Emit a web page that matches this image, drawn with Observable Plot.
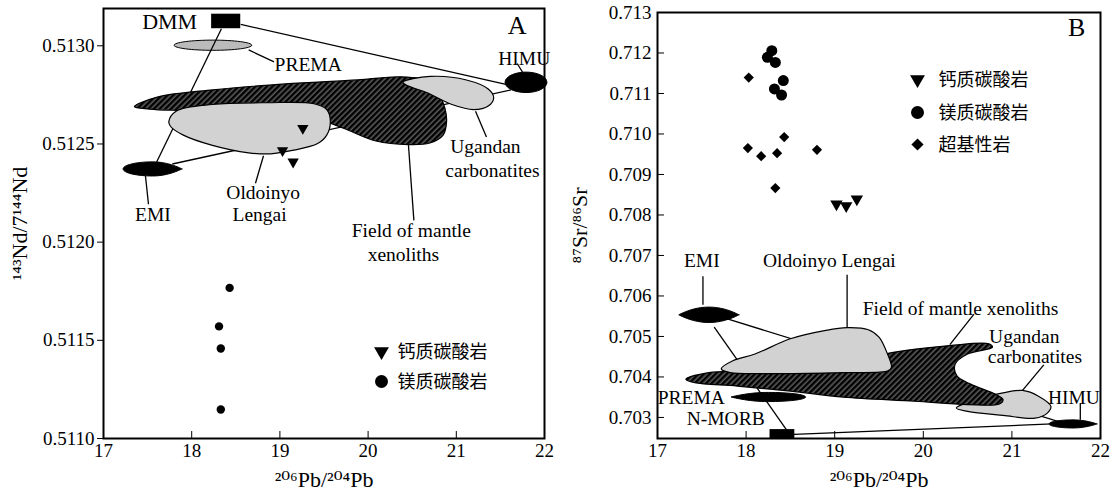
<!DOCTYPE html>
<html>
<head>
<meta charset="utf-8">
<script src="https://cdn.jsdelivr.net/npm/d3@7"></script>
<script src="https://cdn.jsdelivr.net/npm/@observablehq/plot@0.6"></script>
<style>
  body { margin: 0; background: #fff; }
  #wrap { display: flex; width: 1110px; height: 492px; overflow: hidden; }
  #wrap svg { overflow: visible; display: block; }
  #wrap svg text { font-family: "Liberation Serif", "Times New Roman", "DejaVu Serif", serif !important; }
  #wrap svg g.cjk text { font-family: "Noto Sans CJK SC", "Noto Sans", sans-serif !important; }
</style>
</head>
<body>
<svg width="0" height="0" style="position:absolute">
  <defs>
    <pattern id="hatchDark" width="4" height="4" patternUnits="userSpaceOnUse" patternTransform="rotate(45)">
      <rect width="4" height="4" fill="#5a5a5a"></rect>
      <line x1="1.2" y1="0" x2="1.2" y2="4" stroke="#000" stroke-width="2.4"></line>
    </pattern>
    <pattern id="dotsLight" width="2" height="2" patternUnits="userSpaceOnUse">
      <rect width="2" height="2" fill="#eaeaea"></rect>
      <rect width="1" height="1" fill="#8a8a8a"></rect>
    </pattern>
    <pattern id="dotsMid" width="2" height="2" patternUnits="userSpaceOnUse">
      <rect width="2" height="2" fill="#d6d6d6"></rect>
      <rect width="1" height="1" fill="#6a6a6a"></rect>
    </pattern>
  </defs>
</svg>
<div id="wrap"></div>
<script>
// ---------------- shared ticks ----------------
const xTicks = [17, 18, 19, 20, 21, 22];
const ndTicks = [0.5110, 0.5115, 0.5120, 0.5125, 0.5130];
const srTicks = [0.703, 0.704, 0.705, 0.706, 0.707, 0.708, 0.709, 0.710, 0.711, 0.712, 0.713];
const xTitle = "²⁰⁶Pb/²⁰⁴Pb";
const yTitleA = "¹⁴³Nd/7¹⁴⁴Nd";
const yTitleB = "⁸⁷Sr/⁸⁶Sr";
const legendNames = ["钙质碳酸岩", "镁质碳酸岩", "超基性岩"];

// ---------------- Panel A data (Pb vs Nd) ----------------
const caA_pb = [19.26, 19.03, 19.15];
const caA_nd = [0.512580, 0.512467, 0.512409];
const mgA_pb = [18.43, 18.31, 18.33, 18.33];
const mgA_nd = [0.511767, 0.511571, 0.511458, 0.511148];

const mantleA = [[17.35,0.512690],[17.62,0.512740],[18.24,0.512776],[19.06,0.512806],[19.88,0.512826],[20.37,0.512842],[20.70,0.512818],[20.80,0.512760],[20.87,0.512684],[20.89,0.512615],[20.85,0.512545],[20.70,0.512505],[20.46,0.512497],[20.09,0.512515],[19.72,0.512580],[19.40,0.512630],[18.60,0.512660],[17.90,0.512670],[17.52,0.512678]];
const oldoinyoA = [[17.741,0.512615],[17.823,0.512667],[18.235,0.512701],[18.852,0.512710],[19.387,0.512705],[19.531,0.512675],[19.572,0.512615],[19.531,0.512545],[19.428,0.512502],[19.14,0.512467],[18.893,0.512450],[18.646,0.512455],[18.235,0.512493],[17.905,0.512545],[17.761,0.512589]];
const ugandaA = [[20.395,0.512814],[20.704,0.512844],[21.115,0.512826],[21.362,0.512780],[21.424,0.512736],[21.362,0.512693],[21.198,0.512675],[20.951,0.512701],[20.663,0.512762],[20.457,0.512795]];

const endEllipsesA = [
  {name: "PREMA", cx: 18.24, cy: 0.513003, rx: 0.44, ry: 0.000026, shape: "ellipse", fill: "url(#dotsMid)"},
  {name: "HIMU", cx: 21.79, cy: 0.512814, rx: 0.237, ry: 0.000052, shape: "ellipse", fill: "black"},
  {name: "EMI", cx: 17.556, cy: 0.512373, rx: 0.334, ry: 0.000036, shape: "lens-right", fill: "black"}
];
const dmmA = [{x1: 18.226, x2: 18.556, y1: 0.513087, y2: 0.513161}];
const mixLinesA = [
  {x1: 18.556, y1: 0.513109, x2: 21.60, y2: 0.512800},
  {x1: 18.337, y1: 0.513087, x2: 17.60, y2: 0.512406},
  {x1: 17.78, y1: 0.512398, x2: 21.62, y2: 0.512775}
];
const leadersA = [
  {x1: 18.646, y1: 0.512979, x2: 18.934, y2: 0.512918},
  {x1: 21.69, y1: 0.512910, x2: 21.774, y2: 0.512849},
  {x1: 17.476, y1: 0.512337, x2: 17.51, y2: 0.512193},
  {x1: 18.814, y1: 0.512440, x2: 18.723, y2: 0.512300},
  {x1: 21.218, y1: 0.512667, x2: 21.342, y2: 0.512536},
  {x1: 20.457, y1: 0.512497, x2: 20.519, y2: 0.512111}
];
const labelsA = [
  {text: "HIMU", x: 21.77, y: 0.512936},
  {text: "EMI", x: 17.56, y: 0.512141},
  {text: "Oldoinyo", x: 18.81, y: 0.512254},
  {text: "Lengai", x: 18.77, y: 0.512141},
  {text: "Ugandan", x: 21.33, y: 0.512484},
  {text: "carbonatites", x: 21.41, y: 0.512363},
  {text: "Field of mantle", x: 20.49, y: 0.512059},
  {text: "xenoliths", x: 20.40, y: 0.511936}
];
const labelsStartA = [{text: "PREMA", x: 18.94, y: 0.512905}];
const dmmLabelA = [{text: "DMM", x: 17.75, y: 0.513122}];
const panelLabelA = [{text: "A", x: 21.69, y: 0.513100}];

// ---------------- Panel B data (Pb vs Sr) ----------------
const caB_pb = [19.02, 19.13, 19.25];
const caB_sr = [0.708266, 0.708224, 0.708390];
const mgB_pb = [18.29, 18.24, 18.33, 18.42, 18.32, 18.40];
const mgB_sr = [0.712058, 0.711892, 0.711768, 0.711320, 0.711112, 0.710963];
const umB_pb = [18.03, 18.02, 18.17, 18.35, 18.43, 18.80, 18.33];
const umB_sr = [0.711394, 0.709651, 0.709452, 0.709527, 0.709925, 0.709610, 0.708664];

const oldoinyoB = [[17.72,0.704200],[17.85,0.704400],[18.10,0.704567],[18.50,0.704942],[18.90,0.705150],[19.14,0.705217],[19.38,0.705167],[19.50,0.704983],[19.58,0.704650],[19.64,0.704233],[19.60,0.704150],[19.10,0.704108],[18.30,0.704083],[17.82,0.704108]];
const mantleB = [[17.32,0.703942],[17.58,0.704108],[18.00,0.704150],[19.00,0.704300],[19.66,0.704608],[20.30,0.704775],[20.74,0.704817],[20.78,0.704733],[20.50,0.704567],[20.36,0.704317],[20.38,0.704025],[20.54,0.703817],[20.82,0.703567],[20.90,0.703442],[20.86,0.703333],[20.50,0.703317],[19.90,0.703400],[19.10,0.703500],[18.50,0.703650],[17.90,0.703775],[17.42,0.703858]];
const ugandaB = [[20.372,0.703233],[20.54,0.703400],[20.90,0.703608],[21.12,0.703667],[21.30,0.703525],[21.44,0.703275],[21.40,0.703108],[21.26,0.702983],[20.90,0.703050],[20.50,0.703150]];

const endEllipsesB = [
  {name: "EMI", cx: 17.58, cy: 0.705535, rx: 0.34, ry: 0.00019, shape: "lens", fill: "black"},
  {name: "PREMA", cx: 18.25, cy: 0.703505, rx: 0.42, ry: 0.000113, shape: "lens-left", fill: "black"},
  {name: "HIMU", cx: 21.69, cy: 0.702840, rx: 0.27, ry: 0.000100, shape: "lens-right", fill: "black"}
];
const nmorbB = [{x1: 18.27, x2: 18.55, y1: 0.70248, y2: 0.70270}];
const mixLinesB = [
  {x1: 17.78, y1: 0.705440, x2: 21.60, y2: 0.702850},
  {x1: 17.64, y1: 0.705233, x2: 18.48, y2: 0.702620},
  {x1: 18.54, y1: 0.702580, x2: 21.66, y2: 0.702858}
];
const leadersB = [
  {x1: 17.513, y1: 0.706488, x2: 17.513, y2: 0.705785},
  {x1: 19.14, y1: 0.705217, x2: 19.14, y2: 0.706525},
  {x1: 20.572, y1: 0.705550, x2: 20.30, y2: 0.704800},
  {x1: 21.12, y1: 0.703667, x2: 21.36, y2: 0.704300},
  {x1: 21.772, y1: 0.703358, x2: 21.772, y2: 0.702942}
];
const labelsB = [
  {text: "EMI", x: 17.50, y: 0.706858},
  {text: "Oldoinyo Lengai", x: 18.94, y: 0.706858},
  {text: "Field of mantle xenoliths", x: 20.42, y: 0.705692},
  {text: "Ugandan", x: 21.14, y: 0.705000},
  {text: "carbonatites", x: 21.26, y: 0.704490},
  {text: "HIMU", x: 21.70, y: 0.703483}
];
const labelsEndB = [
  {text: "PREMA", x: 17.76, y: 0.703483},
  {text: "N-MORB", x: 18.21, y: 0.702960}
];
const panelLabelB = [{text: "B", x: 21.73, y: 0.712622}];

// ---------------- helpers ----------------
const toPts = (arr, id) => arr.map(([x, y]) => ({x, y, id}));
const pairs = (xs, ys) => xs.map((x, i) => ({x, y: ys[i]}));
function outline(e, n = 64) {
  const pts = [];
  for (let i = 0; i < n; i++) {
    const t = 2 * Math.PI * i / n, c = Math.cos(t), s = Math.sin(t);
    const pointed = e.shape === "lens" || (e.shape === "lens-right" && c > 0) || (e.shape === "lens-left" && c < 0);
    pts.push({x: e.cx + e.rx * c, y: e.cy + e.ry * (pointed ? s * Math.abs(s) : s), id: e.name});
  }
  return pts;
}
const serif = "Liberation Serif";
const cjk = "Noto Sans CJK SC";
const LABEL = 19.5, TICK = 19, TITLE = 22;
const field = (pts, fill) => Plot.line(pts, {x: "x", y: "y", z: "id", fill, stroke: "black", strokeWidth: 1.2, curve: "catmull-rom-closed"});
const shape = (e) => Plot.line(outline(e), {x: "x", y: "y", z: "id", fill: e.fill, stroke: "black", strokeWidth: 1, curve: "linear-closed"});
const links = (d) => Plot.link(d, {x1: "x1", y1: "y1", x2: "x2", y2: "y2", stroke: "black", strokeWidth: 1.3});
const labels = (d, opts = {}) => Plot.text(d, {x: "x", y: "y", text: "text", fontSize: LABEL, fontFamily: serif, fill: "black", ...opts});
const legText = (name, dx, dy) => Plot.text([name], {frameAnchor: "top-left", dx, dy, text: d => d, textAnchor: "start", lineAnchor: "middle", fontFamily: cjk, fontSize: 18, className: "cjk"});

// ---------------- Panel A ----------------
const plotA = Plot.plot({
  width: 555, height: 492,
  marginLeft: 103, marginRight: 11, marginTop: 8, marginBottom: 54,
  style: {fontFamily: serif, fontSize: "19px", color: "black", background: "white"},
  x: {domain: [17, 22]},
  y: {domain: [0.5110, 0.51319]},
  marks: [
    shape(endEllipsesA[0]),
    links(mixLinesA),
    field(toPts(mantleA, "mantle"), "url(#hatchDark)"),
    field(toPts(oldoinyoA, "oldoinyo"), "url(#dotsLight)"),
    field(toPts(ugandaA, "uganda"), "url(#dotsLight)"),
    shape(endEllipsesA[1]),
    shape(endEllipsesA[2]),
    Plot.rect(dmmA, {x1: "x1", x2: "x2", y1: "y1", y2: "y2", fill: "black"}),
    links(leadersA),
    labels(labelsA),
    labels(labelsStartA, {textAnchor: "start"}),
    labels(dmmLabelA, {fontSize: 22}),
    labels(panelLabelA, {fontSize: 26}),
    Plot.dot(pairs(caA_pb, caA_nd), {x: "x", y: "y", symbol: "triangle", rotate: 180, r: 4.2, fill: "black"}),
    Plot.dot(pairs(mgA_pb, mgA_nd), {x: "x", y: "y", r: 4.2, fill: "black"}),
    // legend
    Plot.dot([legendNames[0]], {frameAnchor: "top-left", dx: 278, dy: 343, symbol: "triangle", rotate: 180, r: 5.5, fill: "black"}),
    Plot.dot([legendNames[1]], {frameAnchor: "top-left", dx: 278, dy: 373, r: 6.5, fill: "black"}),
    legText(legendNames[0], 294, 344),
    legText(legendNames[1], 294, 374),
    // axes
    Plot.axisX({ticks: xTicks, tickSize: -7, tickPadding: 12, tickFormat: d3.format("d"), label: null, fontSize: TICK}),
    Plot.axisY({ticks: ndTicks, tickSize: 6, tickPadding: 3, tickFormat: d3.format(".4f"), label: null, fontSize: TICK}),
    Plot.text([xTitle], {frameAnchor: "bottom", dy: 41, lineAnchor: "middle", textAnchor: "middle", text: d => d, fontSize: TITLE, fontFamily: serif}),
    Plot.text([yTitleA], {frameAnchor: "left", dx: -84, rotate: -90, textAnchor: "middle", lineAnchor: "middle", text: d => d, fontSize: TITLE, fontFamily: serif}),
    Plot.frame({stroke: "black", strokeWidth: 2})
  ]
});

// ---------------- Panel B ----------------
const plotB = Plot.plot({
  width: 555, height: 492,
  marginLeft: 102, marginRight: 10, marginTop: 12, marginBottom: 54,
  style: {fontFamily: serif, fontSize: "19px", color: "black", background: "white"},
  x: {domain: [17, 22]},
  y: {domain: [0.70248, 0.713]},
  marks: [
    links(mixLinesB),
    field(toPts(ugandaB, "uganda"), "url(#dotsLight)"),
    field(toPts(mantleB, "mantle"), "url(#hatchDark)"),
    field(toPts(oldoinyoB, "oldoinyo"), "url(#dotsLight)"),
    ...endEllipsesB.map(shape),
    Plot.rect(nmorbB, {x1: "x1", x2: "x2", y1: "y1", y2: "y2", fill: "black"}),
    links(leadersB),
    labels(labelsB),
    labels(labelsEndB, {textAnchor: "end"}),
    labels(panelLabelB, {fontSize: 26}),
    Plot.dot(pairs(caB_pb, caB_sr), {x: "x", y: "y", symbol: "triangle", rotate: 180, r: 4.6, fill: "black"}),
    Plot.dot(pairs(mgB_pb, mgB_sr), {x: "x", y: "y", r: 5.5, fill: "black"}),
    Plot.dot(pairs(umB_pb, umB_sr), {x: "x", y: "y", symbol: "diamond2", r: 4.6, fill: "black"}),
    // legend
    Plot.dot([legendNames[0]], {frameAnchor: "top-left", dx: 260, dy: 67, symbol: "triangle", rotate: 180, r: 5.5, fill: "black"}),
    Plot.dot([legendNames[1]], {frameAnchor: "top-left", dx: 260, dy: 100, r: 6.5, fill: "black"}),
    Plot.dot([legendNames[2]], {frameAnchor: "top-left", dx: 260, dy: 132, symbol: "diamond2", r: 5.5, fill: "black"}),
    legText(legendNames[0], 281, 68),
    legText(legendNames[1], 281, 101),
    legText(legendNames[2], 281, 133),
    // axes
    Plot.axisX({ticks: xTicks, tickSize: -7, tickPadding: 12, tickFormat: d3.format("d"), label: null, fontSize: TICK}),
    Plot.axisY({ticks: srTicks, tickSize: -7, tickPadding: 13, tickFormat: d3.format(".3f"), label: null, fontSize: TICK}),
    Plot.text([xTitle], {frameAnchor: "bottom", dy: 41, lineAnchor: "middle", textAnchor: "middle", text: d => d, fontSize: TITLE, fontFamily: serif}),
    Plot.text([yTitleB], {frameAnchor: "left", dx: -78, rotate: -90, textAnchor: "middle", lineAnchor: "middle", text: d => d, fontSize: TITLE, fontFamily: serif}),
    Plot.frame({stroke: "black", strokeWidth: 2})
  ]
});

const wrap = document.getElementById("wrap");
wrap.append(plotA, plotB);
d3.selectAll("#wrap svg g[font-family='Noto Sans CJK SC']").classed("cjk", true);
</script>
</body>
</html>
